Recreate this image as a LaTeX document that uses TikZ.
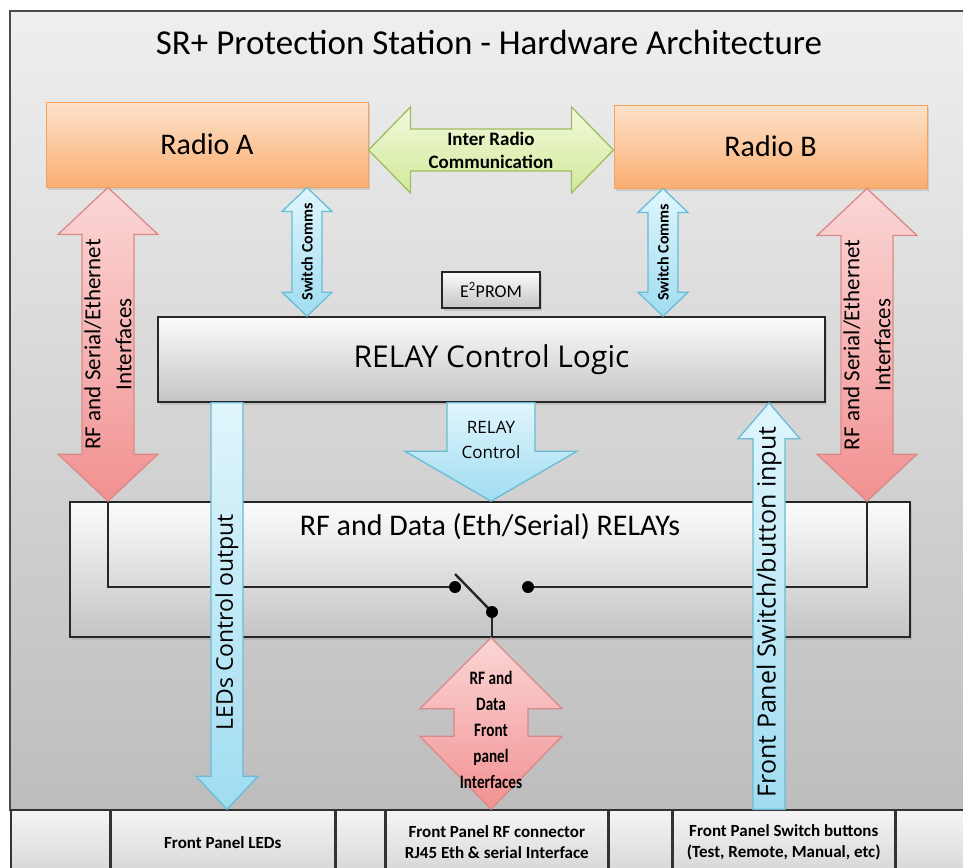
\documentclass[tikz,border=0pt]{standalone}
\usepackage{fontspec}
\setmainfont{Carlito}
\newfontfamily\wideface{Open Sans}
\newfontfamily\narrowface[FakeStretch=0.8]{Carlito}
\usetikzlibrary{calc,shadows}
\definecolor{bgtop}{HTML}{EFEFEF}
\definecolor{bgbot}{HTML}{BDBDBD}
\definecolor{boxtop}{HTML}{FCFCFC}
\definecolor{boxbot}{HTML}{C4C4C4}
\definecolor{orangetop}{HTML}{FDE2CA}
\definecolor{orangebot}{HTML}{FAAE72}
\definecolor{orangeline}{HTML}{F5A25E}
\definecolor{greentop}{HTML}{F1F9DC}
\definecolor{greenbot}{HTML}{D2E99A}
\definecolor{greenline}{HTML}{9FBD62}
\definecolor{redtop}{HTML}{FBD6D6}
\definecolor{redbot}{HTML}{F29191}
\definecolor{redline}{HTML}{D98A88}
\definecolor{bluetop}{HTML}{E0F6FC}
\definecolor{bluebot}{HTML}{A0DCF1}
\definecolor{blueline}{HTML}{6ABCD6}

\begin{document}
\begin{tikzpicture}[x=1pt,y=-1pt,
  graybox/.style={draw=black!85,line width=1.6pt,top color=boxtop,bottom color=boxbot,inner sep=0pt,drop shadow={opacity=0.25,shadow xshift=2pt,shadow yshift=-3pt}},
  radiobox/.style={draw=orangeline,line width=1pt,top color=orangetop,bottom color=orangebot,inner sep=0pt,drop shadow={opacity=0.25,shadow xshift=2pt,shadow yshift=-3pt}},
  redarrow/.style={draw=redline,line width=1.3pt,top color=redtop,bottom color=redbot},
  bluearrow/.style={draw=blueline,line width=1.3pt,top color=bluetop,bottom color=bluebot},
  greenarrow/.style={draw=greenline,line width=1.3pt,top color=greentop,bottom color=greenbot},
  panelcell/.style={draw=black!80,line width=1.5pt,top color=white!96!black,bottom color=white!84!black,inner sep=0pt,minimum height=65,anchor=west,align=center,font=\bfseries\fontsize{17}{21}\selectfont},
  wire/.style={line width=2.4pt,black!85},
  contact/.style={circle,fill=black,inner sep=0pt,minimum size=12}
]
\useasboundingbox (0,0) rectangle (963,867);

% Frame and title
\draw[black!70,line width=1.5pt,top color=bgtop,bottom color=bgbot] (10,11) rectangle (990,810);
\node (title) at (489,42) {\fontsize{35}{40}\selectfont SR+ Protection Station - Hardware Architecture};

% Front panel row
\node[panelcell,minimum width=99] (cellA) at (10,842.5) {};
\node[panelcell,minimum width=223] (ledcell) at (cellA.east) {Front Panel LEDs};
\node[panelcell,minimum width=49] (cellB) at (ledcell.east) {};
\node[panelcell,minimum width=221] (rfcell) at (cellB.east) {Front Panel RF connector\\RJ45 Eth \& serial Interface};
\node[panelcell,minimum width=63] (cellC) at (rfcell.east) {};
\node[panelcell,minimum width=221] (swcell) at (cellC.east) {Front Panel Switch buttons\\(Test, Remote, Manual, etc)};
\node[panelcell,minimum width=110] (cellD) at (swcell.east) {};

% Radios
\node[radiobox,minimum width=322,minimum height=85] (radioA) at (207,144.5) {\fontsize{30}{36}\selectfont Radio A};
\node[radiobox,minimum width=313,minimum height=83] (radioB) at (770.5,146.5) {\fontsize{30}{36}\selectfont Radio B};

% RELAY control logic and E2PROM
\node[graybox,minimum width=98,minimum height=36] (eeprom) at (491,290) {\fontsize{18}{20}\selectfont E\textsuperscript{2}PROM};
\node[graybox,minimum width=667,minimum height=85] (logic) at (491.5,359.5) {\wideface\fontsize{30}{36}\selectfont RELAY Control Logic};

% RF and Data RELAYs
\node[graybox,minimum width=840,minimum height=135,label={[anchor=north,inner sep=12pt,font=\fontsize{30}{36}\selectfont]north:RF and Data (Eth/Serial) RELAYs}] (relays) at (490,569.5) {};

% Axes of the arrows
\coordinate (yI) at (0,150);
\coordinate (xA) at (108,0);
\coordinate (xB) at (867,0);
\coordinate (xSA) at (307,0);
\coordinate (xSB) at (663,0);
\coordinate (xR) at (491,0);
\coordinate (xL) at (227,0);
\coordinate (xS) at (769,0);

% Relay wiring
\coordinate (cA) at (455,587);
\coordinate (cB) at (528,587);
\coordinate (cC) at (492,612);
\draw[wire] (relays.north -| xA) |- (cA);
\draw[wire] (cB) -| (relays.north -| xB);
\draw[wire] ($(cA)+(0,-13)$) -- (cC);
\draw[wire] (cC) -- (relays.south -| cC);
\node[contact] (dotA) at (cA) {};
\node[contact] (dotB) at (cB) {};
\node[contact] (dotC) at (cC) {};

% Inter radio communication
\coordinate (irL) at (radioA.east |- yI);
\coordinate (irR) at (radioB.west |- yI);
\draw[greenarrow] (irL) -- ++(42,-43) -- ++(0,22) -- ($(irR)+(-42,-21)$) -- ++(0,-22) -- (irR) -- ++(-42,43) -- ++(0,-22) -- ($(irL)+(42,21)$) -- ++(0,22) -- cycle;
\node[align=center,font=\fontsize{19}{23}\selectfont\bfseries] (irtext) at ($(irL)!0.5!(irR)$) {Inter Radio\\Communication};

% Radio A to RELAYs
\coordinate (rfAtop) at (radioA.south -| xA);
\coordinate (rfAbot) at (relays.north -| xA);
\draw[redarrow] (rfAtop) -- ++(50,47) -- ++(-24,0) -- ($(rfAbot)+(26,-47)$) -- ++(24,0) -- (rfAbot) -- ++(-50,-47) -- ++(24,0) -- ($(rfAtop)+(-26,47)$) -- ++(-24,0) -- cycle;
\node[rotate=90,align=center,font=\fontsize{23}{31}\selectfont] (rfAtext) at ($(rfAtop)!0.5!(rfAbot)$) {RF and Serial/Ethernet\\Interfaces};

% Radio B to RELAYs
\coordinate (rfBtop) at (radioB.south -| xB);
\coordinate (rfBbot) at (relays.north -| xB);
\draw[redarrow] (rfBtop) -- ++(50,47) -- ++(-24,0) -- ($(rfBbot)+(26,-47)$) -- ++(24,0) -- (rfBbot) -- ++(-50,-47) -- ++(24,0) -- ($(rfBtop)+(-26,47)$) -- ++(-24,0) -- cycle;
\node[rotate=90,align=center,font=\fontsize{23}{31}\selectfont] (rfBtext) at ($(rfBtop)!0.5!(rfBbot)$) {RF and Serial/Ethernet\\Interfaces};

% Switch comms
\coordinate (swAtop) at (radioA.south -| xSA);
\coordinate (swAbot) at (logic.north -| xSA);
\draw[bluearrow] (swAtop) -- ++(25,24) -- ++(-10,0) -- ($(swAbot)+(15,-24)$) -- ++(10,0) -- (swAbot) -- ++(-25,-24) -- ++(10,0) -- ($(swAtop)+(-15,24)$) -- ++(-10,0) -- cycle;
\node[rotate=90,font=\bfseries\fontsize{16}{18}\selectfont] (swAtext) at ($(swAtop)!0.5!(swAbot)$) {Switch Comms};
\coordinate (swBtop) at (radioB.south -| xSB);
\coordinate (swBbot) at (logic.north -| xSB);
\draw[bluearrow] (swBtop) -- ++(25,24) -- ++(-10,0) -- ($(swBbot)+(15,-24)$) -- ++(10,0) -- (swBbot) -- ++(-25,-24) -- ++(10,0) -- ($(swBtop)+(-15,24)$) -- ++(-10,0) -- cycle;
\node[rotate=90,font=\bfseries\fontsize{16}{18}\selectfont] (swBtext) at ($(swBtop)!0.5!(swBbot)$) {Switch Comms};

% RELAY control
\coordinate (rcTop) at (logic.south -| xR);
\coordinate (rcBot) at (relays.north -| xR);
\draw[bluearrow] ($(rcTop)+(-44,0)$) -- ($(rcBot)+(-44,-50)$) -- ++(-42,0) -- (rcBot) -- ++(86,-50) -- ++(-42,0) -- ($(rcTop)+(44,0)$) -- cycle;
\node[align=center,font=\wideface\fontsize{17}{25}\selectfont] (rctext) at ($(rcTop)+(0,37)$) {RELAY\\Control};

% LEDs control output
\coordinate (ledTop) at (logic.south -| xL);
\coordinate (ledBot) at (ledcell.north -| xL);
\draw[bluearrow] ($(ledTop)+(-16,0)$) -- ($(ledBot)+(-16,-33)$) -- ++(-15,0) -- (ledBot) -- ++(31,-33) -- ++(-15,0) -- ($(ledTop)+(16,0)$) -- cycle;
\node[rotate=90,font=\wideface\fontsize{23}{26}\selectfont] (ledtext) at (227,622) {LEDs Control output};

% Front panel switch/button input
\coordinate (butTop) at (logic.south -| xS);
\coordinate (butBot) at (swcell.north -| xS);
\draw[bluearrow] ($(butBot)+(-16,0)$) -- ($(butTop)+(-16,36)$) -- ++(-15,0) -- (butTop) -- ++(31,36) -- ++(-15,0) -- ($(butBot)+(16,0)$) -- cycle;
\node[rotate=90,font=\wideface\fontsize{25}{28}\selectfont] (buttext) at (769,612) {Front Panel Switch/button input};

% RF and data front panel interfaces
\coordinate (fpTop) at (relays.south -| xR);
\coordinate (fpBot) at (rfcell.north -| xR);
\draw[redarrow] (fpTop) -- ++(71,71) -- ++(-34,0) -- ($(fpBot)+(37,-73)$) -- ++(34,0) -- (fpBot) -- ++(-71,-73) -- ++(34,0) -- ($(fpTop)+(-37,71)$) -- ++(-34,0) -- cycle;
\node[align=center,font=\narrowface\bfseries\fontsize{19}{26}\selectfont] (fptext) at (491,730) {RF and\\Data\\Front\\panel\\Interfaces};

\end{tikzpicture}
\end{document}
